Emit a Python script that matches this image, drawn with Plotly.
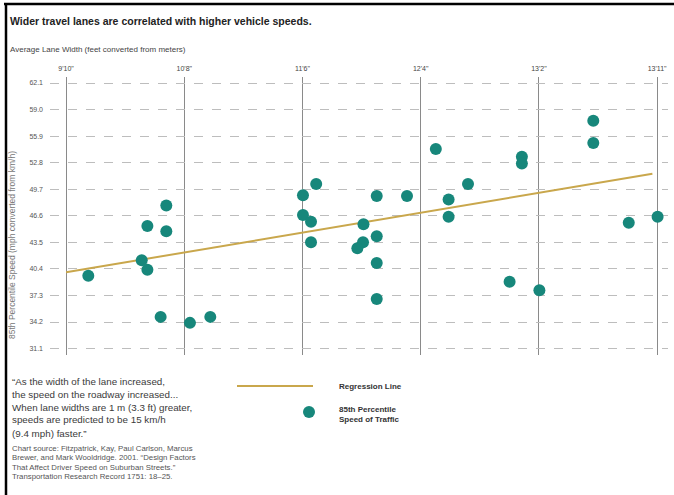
import plotly.graph_objects as go

# ---- data ----
lane_width_m = [3.047, 3.160, 3.172, 3.172, 3.212, 3.212, 3.200, 3.262, 3.305,
                3.501, 3.529, 3.501, 3.518, 3.518, 3.629, 3.628, 3.616, 3.657,
                3.721, 3.657, 3.657, 3.657, 3.782, 3.809, 3.809, 3.850, 3.964,
                3.964, 3.938, 4.001, 4.115, 4.115, 4.190, 4.251]
speed_mph = [39.6, 41.4, 40.3, 45.4, 47.8, 44.8, 34.8, 34.1, 34.8,
             49.0, 50.3, 46.7, 45.9, 43.5, 45.6, 43.5, 42.8, 48.9,
             48.9, 44.2, 41.1, 36.9, 54.4, 48.5, 46.5, 50.3, 53.5,
             52.7, 38.9, 37.9, 57.7, 55.1, 45.8, 46.5]
reg_x = [3.0, 4.24]
reg_y = [40.0, 51.5]

x_tick_vals = [3.0, 3.25, 3.5, 3.75, 4.0, 4.25]
x_tick_text = ["9'10\"", "10'8\"", "11'6\"", "12'4\"", "13'2\"", "13'11\""]
y_tick_vals = [31.1, 34.2, 37.3, 40.4, 43.5, 46.6, 49.7, 52.8, 55.9, 59.0, 62.1]
y_tick_text = ["31.1", "34.2", "37.3", "40.4", "43.5", "46.6", "49.7", "52.8", "55.9", "59.0", "62.1"]

title_text = "Wider travel lanes are correlated with higher vehicle speeds."
x_title = "Average Lane Width (feet converted from meters)"
y_title = "85th Percentile Speed (mph converted from km/h)"
quote_lines = ["\u201cAs the width of the lane increased,",
               "the speed on the roadway increased...",
               "When lane widths are 1 m (3.3 ft) greater,",
               "speeds are predicted to be 15 km/h",
               "(9.4 mph) faster.\u201d"]
source_lines = ["Chart source: Fitzpatrick, Kay, Paul Carlson, Marcus",
                "Brewer, and Mark Wooldridge. 2001. \u201cDesign Factors",
                "That Affect Driver Speed on Suburban Streets.\u201d",
                "Transportation Research Record 1751: 18\u201325."]
legend_labels = ["Regression Line", "85th Percentile<br>Speed of Traffic"]

TEAL = "#17877b"
GOLD = "#c9a74c"
FONT = "Liberation Sans"

# ---- geometry (pixels) ----
WID, HEI = 674, 495
L, R, T, B = 50, 668, 77, 355
PW, PH = R - L, B - T


def px(x):
    return (x - L) / PW


def py(y):
    return (B - y) / PH


fig = go.Figure()
fig.add_trace(go.Scatter(x=reg_x, y=reg_y, mode="lines",
                         line=dict(color=GOLD, width=2), hoverinfo="skip",
                         showlegend=False))
fig.add_trace(go.Scatter(x=lane_width_m, y=speed_mph, mode="markers",
                         marker=dict(color=TEAL, size=12, line=dict(width=0)),
                         showlegend=False))

fig.update_layout(
    width=WID, height=HEI,
    margin=dict(l=L, r=WID - R, t=T, b=HEI - B),
    paper_bgcolor="white", plot_bgcolor="white",
    font=dict(family=FONT, color="#444"),
    showlegend=False,
    xaxis=dict(range=[2.966, 4.273], side="top", tickvals=x_tick_vals,
               ticktext=x_tick_text, showgrid=True, gridcolor="#8a8a8a",
               gridwidth=1, zeroline=False, showline=False, ticks="",
               ticklabelstandoff=4,
               tickfont=dict(size=7, color="#444")),
    yaxis=dict(range=[30.35, 62.8], tickvals=y_tick_vals, ticktext=y_tick_text,
               showgrid=True, gridcolor="#bdbdbd", griddash="dash", gridwidth=1,
               zeroline=False, showline=False, ticks="",
               ticklabelstandoff=6,
               tickfont=dict(size=7, color="#555")),
)

shapes = []
# frame lines
shapes.append(dict(type="line", xref="paper", yref="paper",
                   x0=px(4), x1=px(674), y0=py(4), y1=py(4),
                   line=dict(color="black", width=2.5)))
shapes.append(dict(type="line", xref="paper", yref="paper",
                   x0=px(6), x1=px(6), y0=py(4), y1=py(495),
                   line=dict(color="black", width=2.5)))
# legend keys
shapes.append(dict(type="line", xref="paper", yref="paper",
                   x0=px(237), x1=px(313), y0=py(386), y1=py(386),
                   line=dict(color=GOLD, width=2)))
shapes.append(dict(type="circle", xref="paper", yref="paper",
                   x0=px(303), x1=px(315), y0=py(406), y1=py(418),
                   fillcolor=TEAL, line=dict(width=0)))
fig.update_layout(shapes=shapes)

ann = []
ann.append(dict(text="<b>" + title_text + "</b>", x=px(8), y=py(21),
                xanchor="left", yanchor="middle",
                font=dict(size=10.5, color="#222")))
ann.append(dict(text=x_title, x=px(8), y=py(50), xanchor="left",
                yanchor="middle", font=dict(size=8, color="#444")))
ann.append(dict(text=y_title, x=px(12), y=py(245), xanchor="center",
                yanchor="middle", textangle=-90,
                font=dict(size=8.5, color="#777")))
for i, line in enumerate(quote_lines):
    ann.append(dict(text=line, x=px(10), y=py(381 + 13 * i), xanchor="left",
                    yanchor="middle", font=dict(size=9.8, color="#3a3a3a")))
for i, line in enumerate(source_lines):
    ann.append(dict(text=line, x=px(10), y=py(448 + 9.5 * i), xanchor="left",
                    yanchor="middle", font=dict(size=7.8, color="#555")))
ann.append(dict(text="<b>" + legend_labels[0] + "</b>", x=px(337), y=py(386),
                xanchor="left", yanchor="middle",
                font=dict(size=8, color="#333")))
ann.append(dict(text="<b>" + legend_labels[1] + "</b>", x=px(337), y=py(414),
                xanchor="left", yanchor="middle", align="left",
                font=dict(size=8, color="#333")))
for a in ann:
    a.update(xref="paper", yref="paper", showarrow=False)
fig.update_layout(annotations=ann)

fig.write_html("out.html")
